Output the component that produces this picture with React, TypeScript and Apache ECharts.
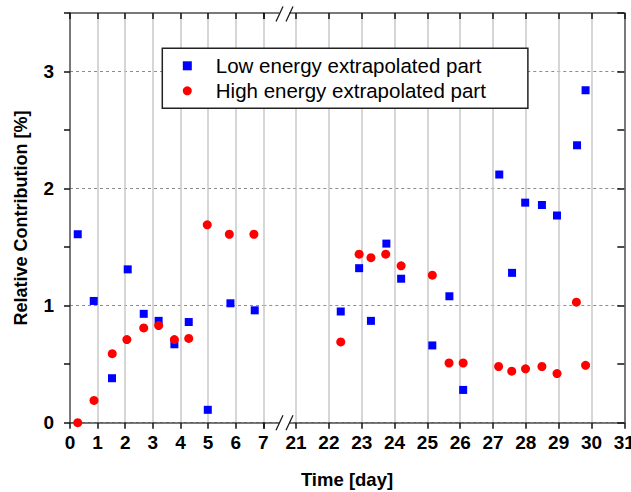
import React, { useEffect, useRef } from 'react';
import * as echarts from 'echarts';

// Time [day] and Relative Contribution [%]
const lowTime = [0.28, 0.86, 1.52, 2.09, 2.67, 3.21, 3.78, 4.30, 4.99, 5.81, 6.69,
  22.36, 22.92, 23.28, 23.75, 24.20, 25.15, 25.67, 26.09, 27.19, 27.58, 27.98, 28.49, 28.95, 29.56, 29.82];
const lowValue = [1.61, 1.04, 0.38, 1.31, 0.93, 0.87, 0.67, 0.86, 0.11, 1.02, 0.96,
  0.95, 1.32, 0.87, 1.53, 1.23, 0.66, 1.08, 0.28, 2.12, 1.28, 1.88, 1.86, 1.77, 2.37, 2.84];
const highTime = [0.28, 0.87, 1.53, 2.06, 2.67, 3.21, 3.78, 4.30, 4.97, 5.77, 6.66,
  22.36, 22.92, 23.28, 23.73, 24.20, 25.15, 25.66, 26.09, 27.17, 27.57, 27.99, 28.49, 28.95, 29.54, 29.82];
const highValue = [0.00, 0.19, 0.59, 0.71, 0.81, 0.83, 0.71, 0.72, 1.69, 1.61, 1.61,
  0.69, 1.44, 1.41, 1.44, 1.34, 1.26, 0.51, 0.51, 0.48, 0.44, 0.46, 0.48, 0.42, 1.03, 0.49];

const LOW = 'Low energy extrapolated part';
const HIGH = 'High energy extrapolated part';
const X_TITLE = 'Time [day]';
const Y_TITLE = 'Relative Contribution [%]';
const leftRange = [0, 7];
const rightRange = [20, 31];
const yRange = [0, 3.5];
const SPLIT_DAY = 15;

const FONT = "'Liberation Sans', Arial, sans-serif";

function pairs(times: number[], values: number[], left: boolean) {
  return times
    .map((t, i) => [t, values[i]])
    .filter((p) => (left ? p[0] < SPLIT_DAY : p[0] >= SPLIT_DAY));
}

export default function App() {
  const ref = useRef<HTMLDivElement>(null);
  useEffect(() => {
    if (!ref.current) return;
    const chart = echarts.init(ref.current, undefined, { renderer: 'svg' });
    const axisLine = { show: true, onZero: false, lineStyle: { color: '#4d4d4d', width: 1.5 } };
    const tickLine = { color: '#111', width: 1.5 };
    const vSplit = { show: true, lineStyle: { color: '#c8c8c8', width: 1.5 } };
    const hSplit = {
      show: true,
      lineStyle: { color: ['#8c8c8c', 'rgba(0,0,0,0)'], width: 1, type: [3, 3] },
    };
    const xLabel = { margin: 10, fontSize: 19, fontWeight: 'bold', color: '#000', fontFamily: FONT };
    const option: any = {
      animation: false,
      backgroundColor: '#fff',
      grid: [
        { left: 70, top: 13, width: 193.3, height: 409.7, outerBoundsMode: 'none', containLabel: false },
        { left: 263.3, top: 13, width: 361, height: 409.7, outerBoundsMode: 'none', containLabel: false },
      ],
      xAxis: [
        {
          type: 'value', gridIndex: 0, position: 'bottom', min: leftRange[0], max: leftRange[1], interval: 1,
          axisLine, axisTick: { show: true, inside: false, length: 6, lineStyle: tickLine },
          axisLabel: xLabel,
          splitLine: { ...vSplit, showMinLine: false },
        },
        {
          type: 'value', gridIndex: 0, position: 'top', min: leftRange[0], max: leftRange[1], interval: 1,
          axisLine, axisTick: { show: true, inside: true, length: 6, lineStyle: tickLine },
          axisLabel: { show: false }, splitLine: { show: false },
        },
        {
          type: 'value', gridIndex: 1, position: 'bottom', min: rightRange[0], max: rightRange[1], interval: 1,
          axisLine, axisTick: { show: true, inside: false, length: 6, lineStyle: tickLine },
          axisLabel: { ...xLabel, formatter: (v: number) => (v === rightRange[0] ? '' : String(v)) },
          splitLine: { ...vSplit, showMinLine: false, showMaxLine: false },
        },
        {
          type: 'value', gridIndex: 1, position: 'top', min: rightRange[0], max: rightRange[1], interval: 1,
          axisLine, axisTick: { show: true, inside: true, length: 6, lineStyle: tickLine },
          axisLabel: { show: false }, splitLine: { show: false },
        },
      ],
      yAxis: [
        {
          type: 'value', gridIndex: 0, position: 'left', min: yRange[0], max: yRange[1], interval: 0.5,
          axisLine, axisTick: { show: true, inside: false, length: 6, lineStyle: tickLine },
          axisLabel: {
            margin: 16, fontSize: 19, fontWeight: 'bold', color: '#000', fontFamily: FONT,
            formatter: (v: number) => (Number.isInteger(v) ? String(v) : ''),
          },
          splitLine: hSplit,
        },
        {
          type: 'value', gridIndex: 1, position: 'right', min: yRange[0], max: yRange[1], interval: 0.5,
          axisLine, axisTick: { show: true, inside: true, length: 7, lineStyle: tickLine },
          axisLabel: { show: false },
          splitLine: hSplit,
        },
      ],
      legend: {
        left: 162.3, top: 48.3, orient: 'vertical',
        padding: [7, 42, 7, 20.5], itemGap: 4, itemWidth: 9, itemHeight: 9,
        backgroundColor: '#fff', borderColor: '#222', borderWidth: 1.5,
        selectedMode: false,
        data: [{ name: LOW, icon: 'rect' }, { name: HIGH, icon: 'circle' }],
        textStyle: { fontSize: 20.5, color: '#000', fontFamily: FONT, padding: [0, 0, 0, 19] },
      },
      series: [
        {
          type: 'scatter', name: LOW, xAxisIndex: 0, yAxisIndex: 0, symbol: 'rect', symbolSize: 8,
          itemStyle: { color: '#0000ff', opacity: 1 }, data: pairs(lowTime, lowValue, true), z: 3,
        },
        {
          type: 'scatter', name: LOW, xAxisIndex: 2, yAxisIndex: 1, symbol: 'rect', symbolSize: 8,
          itemStyle: { color: '#0000ff', opacity: 1 }, data: pairs(lowTime, lowValue, false), z: 3,
        },
        {
          type: 'scatter', name: HIGH, xAxisIndex: 0, yAxisIndex: 0, symbol: 'circle', symbolSize: 9,
          itemStyle: { color: '#ff0000', opacity: 1 }, data: pairs(highTime, highValue, true), z: 4,
        },
        {
          type: 'scatter', name: HIGH, xAxisIndex: 2, yAxisIndex: 1, symbol: 'circle', symbolSize: 9,
          itemStyle: { color: '#ff0000', opacity: 1 }, data: pairs(highTime, highValue, false), z: 4,
        },
      ],
      graphic: [
        {
          type: 'text', x: 21, y: 218, rotation: Math.PI / 2, z: 100,
          style: { text: Y_TITLE, fontSize: 18, fontWeight: 'bold', fontFamily: FONT, fill: '#000', align: 'center', verticalAlign: 'middle' },
        },
        {
          type: 'text', x: 347, y: 479, z: 100,
          style: { text: X_TITLE, fontSize: 18.5, fontWeight: 'bold', fontFamily: FONT, fill: '#000', align: 'center', verticalAlign: 'middle' },
        },
        { type: 'rect', z: 100, shape: { x: 279.5, y: 11.5, width: 10, height: 3.5 }, style: { fill: '#fff' } },
        { type: 'rect', z: 100, shape: { x: 279.5, y: 421, width: 10, height: 3.5 }, style: { fill: '#fff' } },
        { type: 'line', z: 101, shape: { x1: 276, y1: 21.5, x2: 283, y2: 6.5 }, style: { stroke: '#111', lineWidth: 1.2 } },
        { type: 'line', z: 101, shape: { x1: 286, y1: 21.5, x2: 293, y2: 6.5 }, style: { stroke: '#111', lineWidth: 1.2 } },
        { type: 'line', z: 101, shape: { x1: 276, y1: 430.2, x2: 283, y2: 415.2 }, style: { stroke: '#111', lineWidth: 1.2 } },
        { type: 'line', z: 101, shape: { x1: 286, y1: 430.2, x2: 293, y2: 415.2 }, style: { stroke: '#111', lineWidth: 1.2 } },
      ],
    };
    chart.setOption(option);
    return () => chart.dispose();
  }, []);
  return (
    <div
      ref={ref}
      style={{ position: 'fixed', left: 0, top: 0, width: 631, height: 492, background: '#fff' }}
    />
  );
}
